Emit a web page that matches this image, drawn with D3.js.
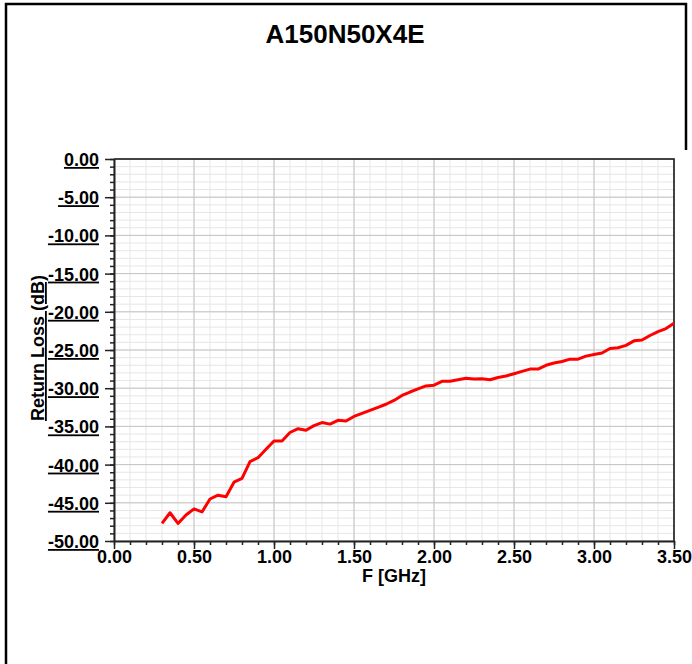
<!DOCTYPE html>
<html>
<head>
<meta charset="utf-8">
<script src="https://cdn.jsdelivr.net/npm/d3@7"></script>
<style>
  html, body { margin: 0; padding: 0; background: #fff; }
  svg { display: block; }
  text { font-family: "Liberation Sans", Arial, sans-serif; font-weight: bold; fill: #000; }
</style>
</head>
<body>
<svg id="chart" width="692" height="664"></svg>
<script>
const title = "A150N50X4E";
const xTitle = "F [GHz]";
const yTitle = "Return Loss (dB)";

const freq = [0.30,0.35,0.40,0.45,0.50,0.55,0.60,0.65,0.70,0.75,0.80,0.85,0.90,0.95,
  1.00,1.05,1.10,1.15,1.20,1.25,1.30,1.35,1.40,1.45,1.50,1.55,1.60,1.65,1.70,1.75,
  1.80,1.85,1.90,1.95,2.00,2.05,2.10,2.15,2.20,2.25,2.30,2.35,2.40,2.45,2.50,2.55,
  2.60,2.65,2.70,2.75,2.80,2.85,2.90,2.95,3.00,3.05,3.10,3.15,3.20,3.25,3.30,3.35,
  3.40,3.45,3.50];
const returnLoss = [-47.7,-46.3,-47.7,-46.6,-45.8,-46.2,-44.5,-44.0,-44.2,-42.3,-41.8,-39.6,-39.1,-38.0,
  -36.9,-36.9,-35.8,-35.3,-35.5,-34.9,-34.5,-34.7,-34.2,-34.3,-33.7,-33.3,-32.9,-32.5,-32.1,-31.6,
  -30.95,-30.5,-30.1,-29.7,-29.6,-29.1,-29.1,-28.9,-28.7,-28.8,-28.75,-28.9,-28.6,-28.4,-28.1,-27.8,
  -27.5,-27.5,-27.0,-26.7,-26.5,-26.2,-26.2,-25.8,-25.6,-25.4,-24.8,-24.7,-24.4,-23.8,-23.7,-23.1,
  -22.6,-22.2,-21.5];

const xTicks = [0, 0.5, 1.0, 1.5, 2.0, 2.5, 3.0, 3.5];
const yTicks = [0, -5, -10, -15, -20, -25, -30, -35, -40, -45, -50];
const xMinor = d3.range(0, 36).map(i => i / 10);
const yMinor = d3.range(0, 51).map(i => -i);

const fmt = d => (d < 0 ? "-" : "") + Math.abs(d).toFixed(2);

const svg = d3.select("#chart");
const L = 114, R = 674, T = 159, B = 541;

const x = d3.scaleLinear().domain([0, 3.5]).range([L, R]);
const y = d3.scaleLinear().domain([0, -50]).range([T, B]);

// outer border
svg.append("path")
  .attr("d", `M6,664 L6,4 L686,4 L686,150`)
  .attr("fill", "none").attr("stroke", "#000").attr("stroke-width", 2.5);

// title
svg.append("text").attr("x", 345).attr("y", 43)
  .attr("text-anchor", "middle").style("font-size", "26px").text(title);

// minor grid
const g = svg.append("g");
g.selectAll("line.vmin").data(xMinor).join("line")
  .attr("x1", d => x(d)).attr("x2", d => x(d)).attr("y1", T).attr("y2", B)
  .attr("stroke", "#e6e6e6").attr("stroke-width", 1);
g.selectAll("line.hmin").data(yMinor).join("line")
  .attr("y1", d => y(d)).attr("y2", d => y(d)).attr("x1", L).attr("x2", R)
  .attr("stroke", "#e6e6e6").attr("stroke-width", 1);
// major grid
g.selectAll("line.vmaj").data(xTicks).join("line")
  .attr("x1", d => x(d)).attr("x2", d => x(d)).attr("y1", T).attr("y2", B)
  .attr("stroke", "#c4c4c4").attr("stroke-width", 1);
g.selectAll("line.hmaj").data(yTicks).join("line")
  .attr("y1", d => y(d)).attr("y2", d => y(d)).attr("x1", L).attr("x2", R)
  .attr("stroke", "#c4c4c4").attr("stroke-width", 1);

// frame top & right
svg.append("path").attr("d", `M${L},${T} L${R},${T} L${R},${B}`)
  .attr("fill", "none").attr("stroke", "#111").attr("stroke-width", 1.5);

// data line
const line = d3.line().x((d, i) => x(freq[i])).y(d => y(d));
svg.append("path").datum(returnLoss)
  .attr("d", line).attr("fill", "none")
  .attr("stroke", "#ff0000").attr("stroke-width", 3).attr("stroke-linejoin", "round");

// x axis minor ticks
svg.append("g").attr("transform", `translate(0,${B})`)
  .call(d3.axisBottom(x).tickValues(xMinor).tickSize(4).tickFormat(""))
  .call(s => s.select(".domain").remove())
  .selectAll("line").attr("stroke", "#222").attr("stroke-width", 1.5);
// x axis major
const xa = svg.append("g").attr("transform", `translate(0,${B})`)
  .call(d3.axisBottom(x).tickValues(xTicks).tickSize(8).tickSizeOuter(0).tickFormat(fmt));
xa.select(".domain").attr("stroke", "#222").attr("stroke-width", 2);
xa.selectAll("line").attr("stroke", "#222").attr("stroke-width", 1.5);
xa.selectAll("text").attr("y", 9).attr("dy", "0.71em")
  .style("font-size", "18px").style("font-family", "'Liberation Sans', Arial, sans-serif").style("font-weight", "bold").attr("fill", "#000");

// y axis minor
svg.append("g").attr("transform", `translate(${L},0)`)
  .call(d3.axisLeft(y).tickValues(yMinor).tickSize(4).tickFormat(""))
  .call(s => s.select(".domain").remove())
  .selectAll("line").attr("stroke", "#222").attr("stroke-width", 1.5);
const ya = svg.append("g").attr("transform", `translate(${L},0)`)
  .call(d3.axisLeft(y).tickValues(yTicks).tickSize(9).tickSizeOuter(0).tickFormat(fmt));
ya.select(".domain").attr("stroke", "#222").attr("stroke-width", 2);
ya.selectAll("line").attr("stroke", "#222").attr("stroke-width", 1.5);
ya.selectAll("text").attr("x", -15).attr("dy", "0.36em")
  .style("font-size", "18px").style("font-family", "'Liberation Sans', Arial, sans-serif").style("font-weight", "bold")
  .style("text-decoration", "underline").attr("fill", "#000");

// axis titles
svg.append("text").attr("x", x(1.75)).attr("y", 582)
  .attr("text-anchor", "middle").style("font-size", "18px").text(xTitle);
svg.append("text").attr("transform", `translate(44,348) rotate(-90)`)
  .attr("text-anchor", "middle").style("font-size", "18px")
  .style("text-decoration", "underline").text(yTitle);
</script>
</body>
</html>
